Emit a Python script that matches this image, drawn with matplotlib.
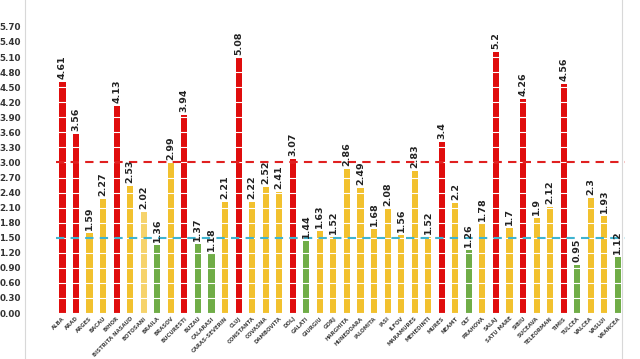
import matplotlib
matplotlib.use("Agg")
import matplotlib.pyplot as plt
from matplotlib.lines import Line2D

judete = ["ALBA", "ARAD", "ARGES", "BACAU", "BIHOR", "BISTRITA NASAUD", "BOTOSANI",
          "BRAILA", "BRASOV", "BUCURESTI", "BUZAU", "CALARASI", "CARAS-SEVERIN", "CLUJ",
          "CONSTANTA", "COVASNA", "DAMBOVITA", "DOLJ", "GALATI", "GIURGIU", "GORJ",
          "HARGHITA", "HUNEDOARA", "IALOMITA", "IASI", "ILFOV", "MARAMURES", "MEHEDINTI",
          "MURES", "NEAMT", "OLT", "PRAHOVA", "SALAJ", "SATU MARE", "SIBIU", "SUCEAVA",
          "TELEORMAN", "TIMIS", "TULCEA", "VALCEA", "VASLUI", "VRANCEA"]
rate = [4.61, 3.56, 1.59, 2.27, 4.13, 2.53, 2.02, 1.36, 2.99, 3.94, 1.37, 1.18, 2.21, 5.08,
        2.22, 2.52, 2.41, 3.07, 1.44, 1.63, 1.52, 2.86, 2.49, 1.68, 2.08, 1.56, 2.83, 1.52,
        3.4, 2.2, 1.26, 1.78, 5.2, 1.7, 4.26, 1.9, 2.12, 4.56, 0.95, 2.3, 1.93, 1.12]
labels = ["4.61", "3.56", "1.59", "2.27", "4.13", "2.53", "2.02", "1.36", "2.99", "3.94",
          "1.37", "1.18", "2.21", "5.08", "2.22", "2.52", "2.41", "3.07", "1.44", "1.63",
          "1.52", "2.86", "2.49", "1.68", "2.08", "1.56", "2.83", "1.52", "3.4", "2.2",
          "1.26", "1.78", "5.2", "1.7", "4.26", "1.9", "2.12", "4.56", "0.95", "2.3",
          "1.93", "1.12"]
prag_rosu = 3.0
prag_verde = 1.5

def culoare(nume, v):
    if v > prag_rosu:
        return "#e00d0d"
    if v < prag_verde:
        return "#70ad47"
    if nume == "BOTOSANI":
        return "#f6d36b"
    return "#f2c12e"

fig = plt.figure(figsize=(6.4, 3.59), dpi=100)
ax = fig.add_axes([0.087, 0.128, 0.889, 0.797])

x = list(range(len(judete)))
ax.bar(x, rate, width=0.45, color=[culoare(n, v) for n, v in zip(judete, rate)], zorder=2)

for i, (v, t) in enumerate(zip(rate, labels)):
    ax.text(i, v + 0.06, t, rotation=90, ha="center", va="bottom",
            fontsize=6.8, fontweight="bold", color="#222222", zorder=4)

ax.axhline(prag_rosu, color="#e02020", linestyle=(0, (4, 3)), linewidth=1.5, zorder=3)
ax.axhline(prag_verde, color="#3fb4d0", linestyle=(0, (4, 3)), linewidth=1.5, zorder=3)

ax.set_ylim(0, 5.7)
ax.set_xlim(-0.5, len(judete) - 0.5)
yt = [round(0.3 * k, 2) for k in range(20)]
ax.set_yticks(yt)
ax.set_yticklabels(["%.2f" % t for t in yt], fontsize=6.3, fontweight="bold", color="#333333")
ax.set_xticks(x)
ax.set_xticklabels(judete, rotation=45, ha="right", rotation_mode="anchor",
                   fontsize=3.9, fontweight="bold", color="#444444")
ax.tick_params(axis="x", length=0, pad=2)
ax.tick_params(axis="y", length=0, pad=25)
ax.yaxis.grid(True, color="white", linewidth=0.8, zorder=3)
ax.set_axisbelow(False)
for s in ax.spines.values():
    s.set_visible(False)

fig.add_artist(Line2D([0.039, 0.039], [0, 1], color="#d8d8d8", linewidth=0.8))
fig.add_artist(Line2D([0.972, 0.972], [0, 1], color="#d8d8d8", linewidth=0.8))

fig.savefig("out.png", dpi=100, facecolor="white")
